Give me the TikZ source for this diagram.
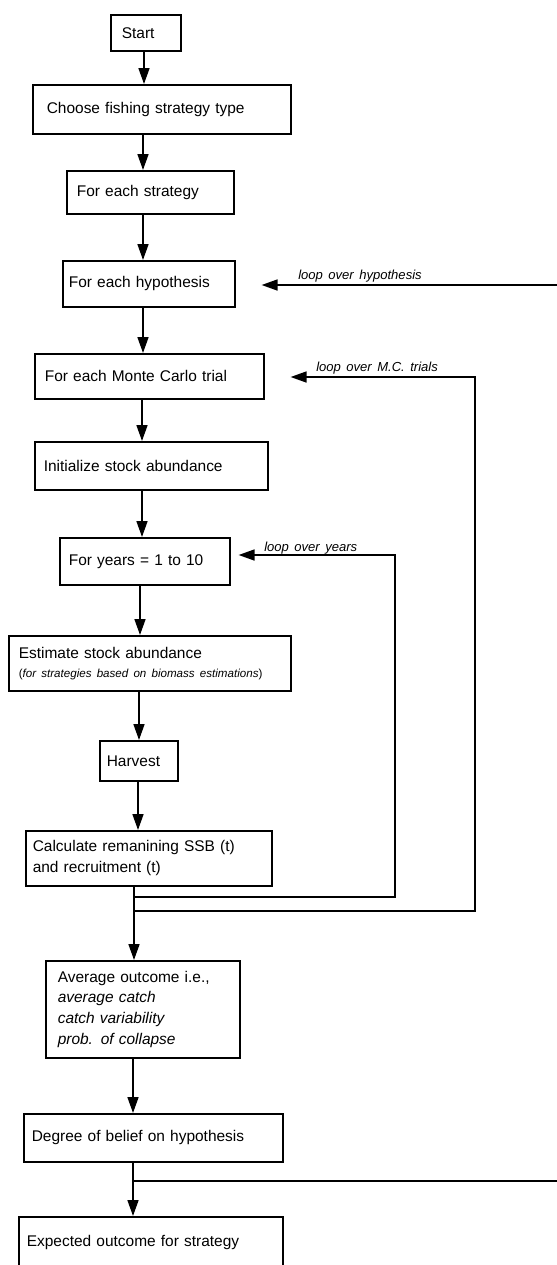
\documentclass[tikz,border=0pt]{standalone}
\usepackage{fontspec}
\setmainfont[WordSpace=1.5]{Liberation Sans}
\usetikzlibrary{arrows.meta}
\begin{document}
\begin{tikzpicture}[x=0.75pt,y=-0.75pt,
  font=\fontsize{11.6}{15.5}\selectfont,
  box/.style={draw, line width=1.2pt, anchor=north west, align=left, inner ysep=0pt},
  arr/.style={line width=1.25pt, -{Triangle[length=12pt,width=8.25pt]}},
  lbl/.style={font=\fontsize{9.8}{11}\selectfont\itshape, anchor=west, inner sep=0pt}]
\useasboundingbox (0,0) rectangle (557,1265);
\fill[white] (0,0) rectangle (557,1265);
\clip (0,0) rectangle (557,1265);

% boxes
\node[box, text width=36pt,     inner xsep=8.25pt, minimum height=27pt]    (start) at (110,14)  {Start};
\node[box, text width=172.5pt,  inner xsep=10.5pt, minimum height=36.75pt] (choose) at (32,84)  {Choose fishing strategy type};
\node[box, text width=110.25pt, inner xsep=7.5pt,  minimum height=32.25pt] (strat) at (66,170)  {For each strategy};
\node[box, text width=120pt,    inner xsep=4.5pt,  minimum height=34.5pt]  (hyp) at (62,260)    {For each hypothesis};
\node[box, text width=156.75pt, inner xsep=7.5pt,  minimum height=33.75pt] (mc) at (34,353)     {For each Monte Carlo trial};
\node[box, text width=161.25pt, inner xsep=6.75pt, minimum height=36pt]    (init) at (34,441)   {Initialize stock abundance};
\node[box, text width=114pt,    inner xsep=6.75pt, minimum height=35.25pt] (years) at (59,537)  {For years = 1 to 10};
\node[box, text width=196.5pt,  inner xsep=7.5pt,  minimum height=41.25pt] (est) at (8,635)
  {Estimate stock abundance\\[-1pt]{\fontsize{8.7}{10}\selectfont(\textit{for strategies based on biomass estimations})}};
\node[box, text width=48pt,     inner xsep=5.25pt, minimum height=30pt]    (harv) at (99,740)   {Harvest};
\node[box, text width=174pt,    inner xsep=5.25pt, minimum height=41.25pt] (calc) at (25,830)   {Calculate remanining SSB (t)\\and recruitment (t)};
\node[box, text width=127.5pt,  inner xsep=9pt,    minimum height=72.75pt] (avg) at (45,960)
  {Average outcome i.e.,\\\textit{average catch}\\\textit{catch variability}\\\textit{prob. of collapse}};
\node[box, text width=182.25pt, inner xsep=6pt,    minimum height=36pt]    (belief) at (23,1113) {Degree of belief on hypothesis};
\node[box, text width=186pt,    inner xsep=6pt,    minimum height=39pt]    (expct) at (18,1216) {Expected outcome for strategy};

% main flow
\draw[arr] (start.south -| 144,0) -- (choose.north -| 144,0);
\draw[arr] (choose.south -| 143,0) -- (strat.north -| 143,0);
\draw[arr] (strat.south -| 143,0) -- (hyp.north -| 143,0);
\draw[arr] (hyp.south -| 143,0) -- (mc.north -| 143,0);
\draw[arr] (mc.south -| 142,0) -- (init.north -| 142,0);
\draw[arr] (init.south -| 142,0) -- (years.north -| 142,0);
\draw[arr] (years.south -| 140,0) -- (est.north -| 140,0);
\draw[arr] (est.south -| 139,0) -- (harv.north -| 139,0);
\draw[arr] (harv.south -| 138,0) -- (calc.north -| 138,0);
\draw[arr] (calc.south -| 134,0) -- (avg.north -| 134,0);
\draw[arr] (avg.south -| 133,0) -- (belief.north -| 133,0);
\draw[arr] (belief.south -| 133,0) -- (expct.north -| 133,0);

% loops
\coordinate (j1) at (134,897);
\coordinate (j2) at (134,911);
\coordinate (j3) at (133,1181);
\draw[arr, shorten >=6pt] (j1) -- (395,897) -- (395,555) -- (years.east |- 0,555);
\draw[arr, shorten >=19.5pt] (j2) -- (475,911) -- (475,377) -- (mc.east |- 0,377);
\draw[arr, shorten >=19.5pt] (j3) -- (580,1181) -- (580,285) -- (hyp.east |- 0,285);

% loop labels
\node[lbl] (lyears) at (264,548) {loop over years};
\node[lbl] (lmc) at (316,368) {loop over M.C. trials};
\node[lbl] (lhyp) at (298,276) {loop over hypothesis};
\end{tikzpicture}
\end{document}
